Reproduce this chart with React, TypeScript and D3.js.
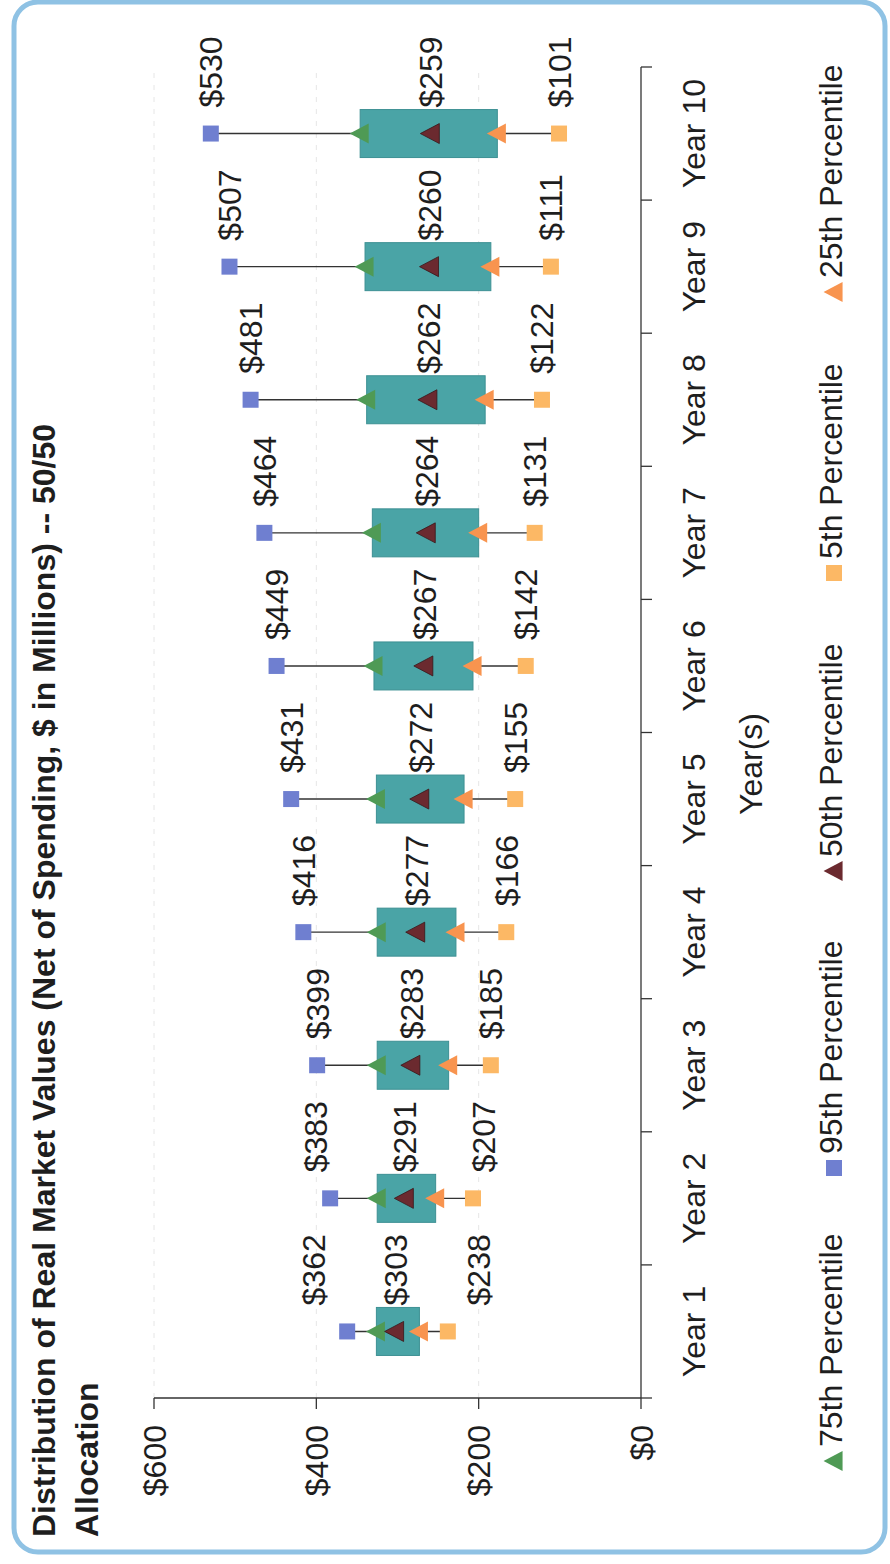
import React from 'react';
import * as d3 from 'd3';

const years = ['Year 1', 'Year 2', 'Year 3', 'Year 4', 'Year 5', 'Year 6', 'Year 7', 'Year 8', 'Year 9', 'Year 10'];
const p95 = [362, 383, 399, 416, 431, 449, 464, 481, 507, 530];
const p75 = [326, 325, 325, 325, 326, 329, 331, 338, 340, 346];
const p50 = [303, 291, 283, 277, 272, 267, 264, 262, 260, 259];
const p25 = [273, 253, 237, 228, 218, 207, 200, 192, 185, 177];
const p5 = [238, 207, 185, 166, 155, 142, 131, 122, 111, 101];
const valueTicks = [0, 200, 400, 600];
const legendItems = [
  { label: '75th Percentile', shape: 'tri', color: '#4f9a55' },
  { label: '95th Percentile', shape: 'sq', color: '#6f7fd0' },
  { label: '50th Percentile', shape: 'tri', color: '#6b2a2f' },
  { label: '5th Percentile', shape: 'sq', color: '#fcb865' },
  { label: '25th Percentile', shape: 'tri', color: '#f8944f' },
];

const W = 890;
const H = 1564;
const FONT = 'Liberation Sans, Arial, Helvetica, sans-serif';
const C = {
  box: '#4aa4a6',
  boxEdge: '#3d9093',
  p95: '#6f7fd0',
  p75: '#4f9a55',
  p50: '#6b2a2f',
  p25: '#f8944f',
  p5: '#fcb865',
};
// manual label nudges (pixels) seen in the original for the crowded first years
const nudge95 = [-34, -15, 0, 0, 0, 0, 0, 0, 0, 0];
const nudge5 = [31, 10, 0, 0, 0, 0, 0, 0, 0, 0];

function tri(cx: number, cy: number, w: number, h: number) {
  return `M${cx},${cy - h * 0.55} L${cx + w / 2},${cy + h * 0.45} L${cx - w / 2},${cy + h * 0.45} Z`;
}

export default function App() {
  // chart frame: width H (1564), height W (890); rotated -90deg onto the page
  const x = d3.scaleBand<string>().domain(years).range([166, 1497]).padding(0);
  const y = d3.scaleLinear().domain([0, 600]).range([641, 154]);
  const bw = 48;
  const labelFs = 32;
  const ink = '#1e1e1e';
  const boundaries = d3.range(years.length + 1).map((i) => 166 + i * x.bandwidth());
  const legendX = [103, 396, 693, 991, 1272];

  return (
    <svg width={W} height={H} style={{ position: 'absolute', left: 0, top: 0, background: '#fff' }}>
      <rect x={14} y={2} width={871} height={1550} rx={24} ry={24} fill="#fff" stroke="#8fc2e4" strokeWidth={5} />
      <g transform={`translate(0,${H}) rotate(-90)`} fontFamily={FONT}>
        {/* title */}
        <text x={27} y={55} fontSize={32} fontWeight="bold" fill={ink}>
          Distribution of Real Market Values (Net of Spending, $ in Millions) -- 50/50
        </text>
        <text x={27} y={98} fontSize={32} fontWeight="bold" fill={ink}>Allocation</text>

        {/* gridlines */}
        {valueTicks.filter((t) => t > 0).map((t) => (
          <line key={'g' + t} x1={166} x2={1497} y1={y(t)} y2={y(t)} stroke="#e6e6e6" strokeWidth={1} strokeDasharray="5,7" />
        ))}

        {/* value axis */}
        <line x1={166} x2={166} y1={y(600)} y2={y(0)} stroke="#333" strokeWidth={1.3} />
        {valueTicks.map((t) => (
          <g key={'vt' + t}>
            <line x1={155} x2={166} y1={y(t)} y2={y(t)} stroke="#333" strokeWidth={1.3} />
            <text x={139} y={y(t)} dy="0.36em" textAnchor="end" fontSize={labelFs} fill={ink}>${t}</text>
          </g>
        ))}

        {/* category axis */}
        <line x1={166} x2={1497} y1={y(0)} y2={y(0)} stroke="#333" strokeWidth={1.3} />
        {boundaries.map((b, i) => (
          <line key={'ct' + i} x1={b} x2={b} y1={y(0)} y2={y(0) + 11} stroke="#333" strokeWidth={1.3} />
        ))}
        {years.map((yr) => (
          <text key={'cl' + yr} x={(x(yr) as number) + x.bandwidth() / 2} y={705} textAnchor="middle" fontSize={labelFs} fill={ink}>
            {yr}
          </text>
        ))}
        <text x={800} y={762} textAnchor="middle" fontSize={labelFs} fill={ink}>Year(s)</text>

        {/* boxes */}
        {years.map((yr, i) => {
          const cx = (x(yr) as number) + x.bandwidth() / 2;
          return (
            <g key={'b' + yr}>
              <line x1={cx} x2={cx} y1={y(p95[i])} y2={y(p5[i])} stroke="#333" strokeWidth={1.4} />
              <rect x={cx - bw / 2} y={y(p75[i])} width={bw} height={y(p25[i]) - y(p75[i])} fill={C.box} stroke={C.boxEdge} strokeWidth={1} />
              <rect x={cx - 8} y={y(p95[i]) - 8} width={16} height={16} fill={C.p95} />
              <rect x={cx - 8} y={y(p5[i]) - 8} width={16} height={16} fill={C.p5} />
              <path d={tri(cx, y(p75[i]), 20, 19)} fill={C.p75} />
              <path d={tri(cx, y(p50[i]), 20, 19)} fill={C.p50} stroke="#3a1518" strokeWidth={0.8} />
              <path d={tri(cx, y(p25[i]), 20, 19)} fill={C.p25} />
              <text x={cx + 26} y={y(p95[i]) + nudge95[i]} dy="0.36em" fontSize={labelFs} fill={ink}>${p95[i]}</text>
              <text x={cx + 26} y={y(p50[i])} dy="0.36em" fontSize={labelFs} fill={ink}>${p50[i]}</text>
              <text x={cx + 26} y={y(p5[i]) + nudge5[i]} dy="0.36em" fontSize={labelFs} fill={ink}>${p5[i]}</text>
            </g>
          );
        })}

        {/* legend */}
        {legendItems.map((it, i) => {
          const mx = legendX[i];
          return (
            <g key={'lg' + i}>
              {it.shape === 'tri' ? (
                <path d={tri(mx, 834, 20, 19)} fill={it.color} />
              ) : (
                <rect x={mx - 8} y={826} width={16} height={16} fill={it.color} />
              )}
              <text x={mx + 14} y={842} fontSize={labelFs} fill={ink}>{it.label}</text>
            </g>
          );
        })}
      </g>
    </svg>
  );
}
